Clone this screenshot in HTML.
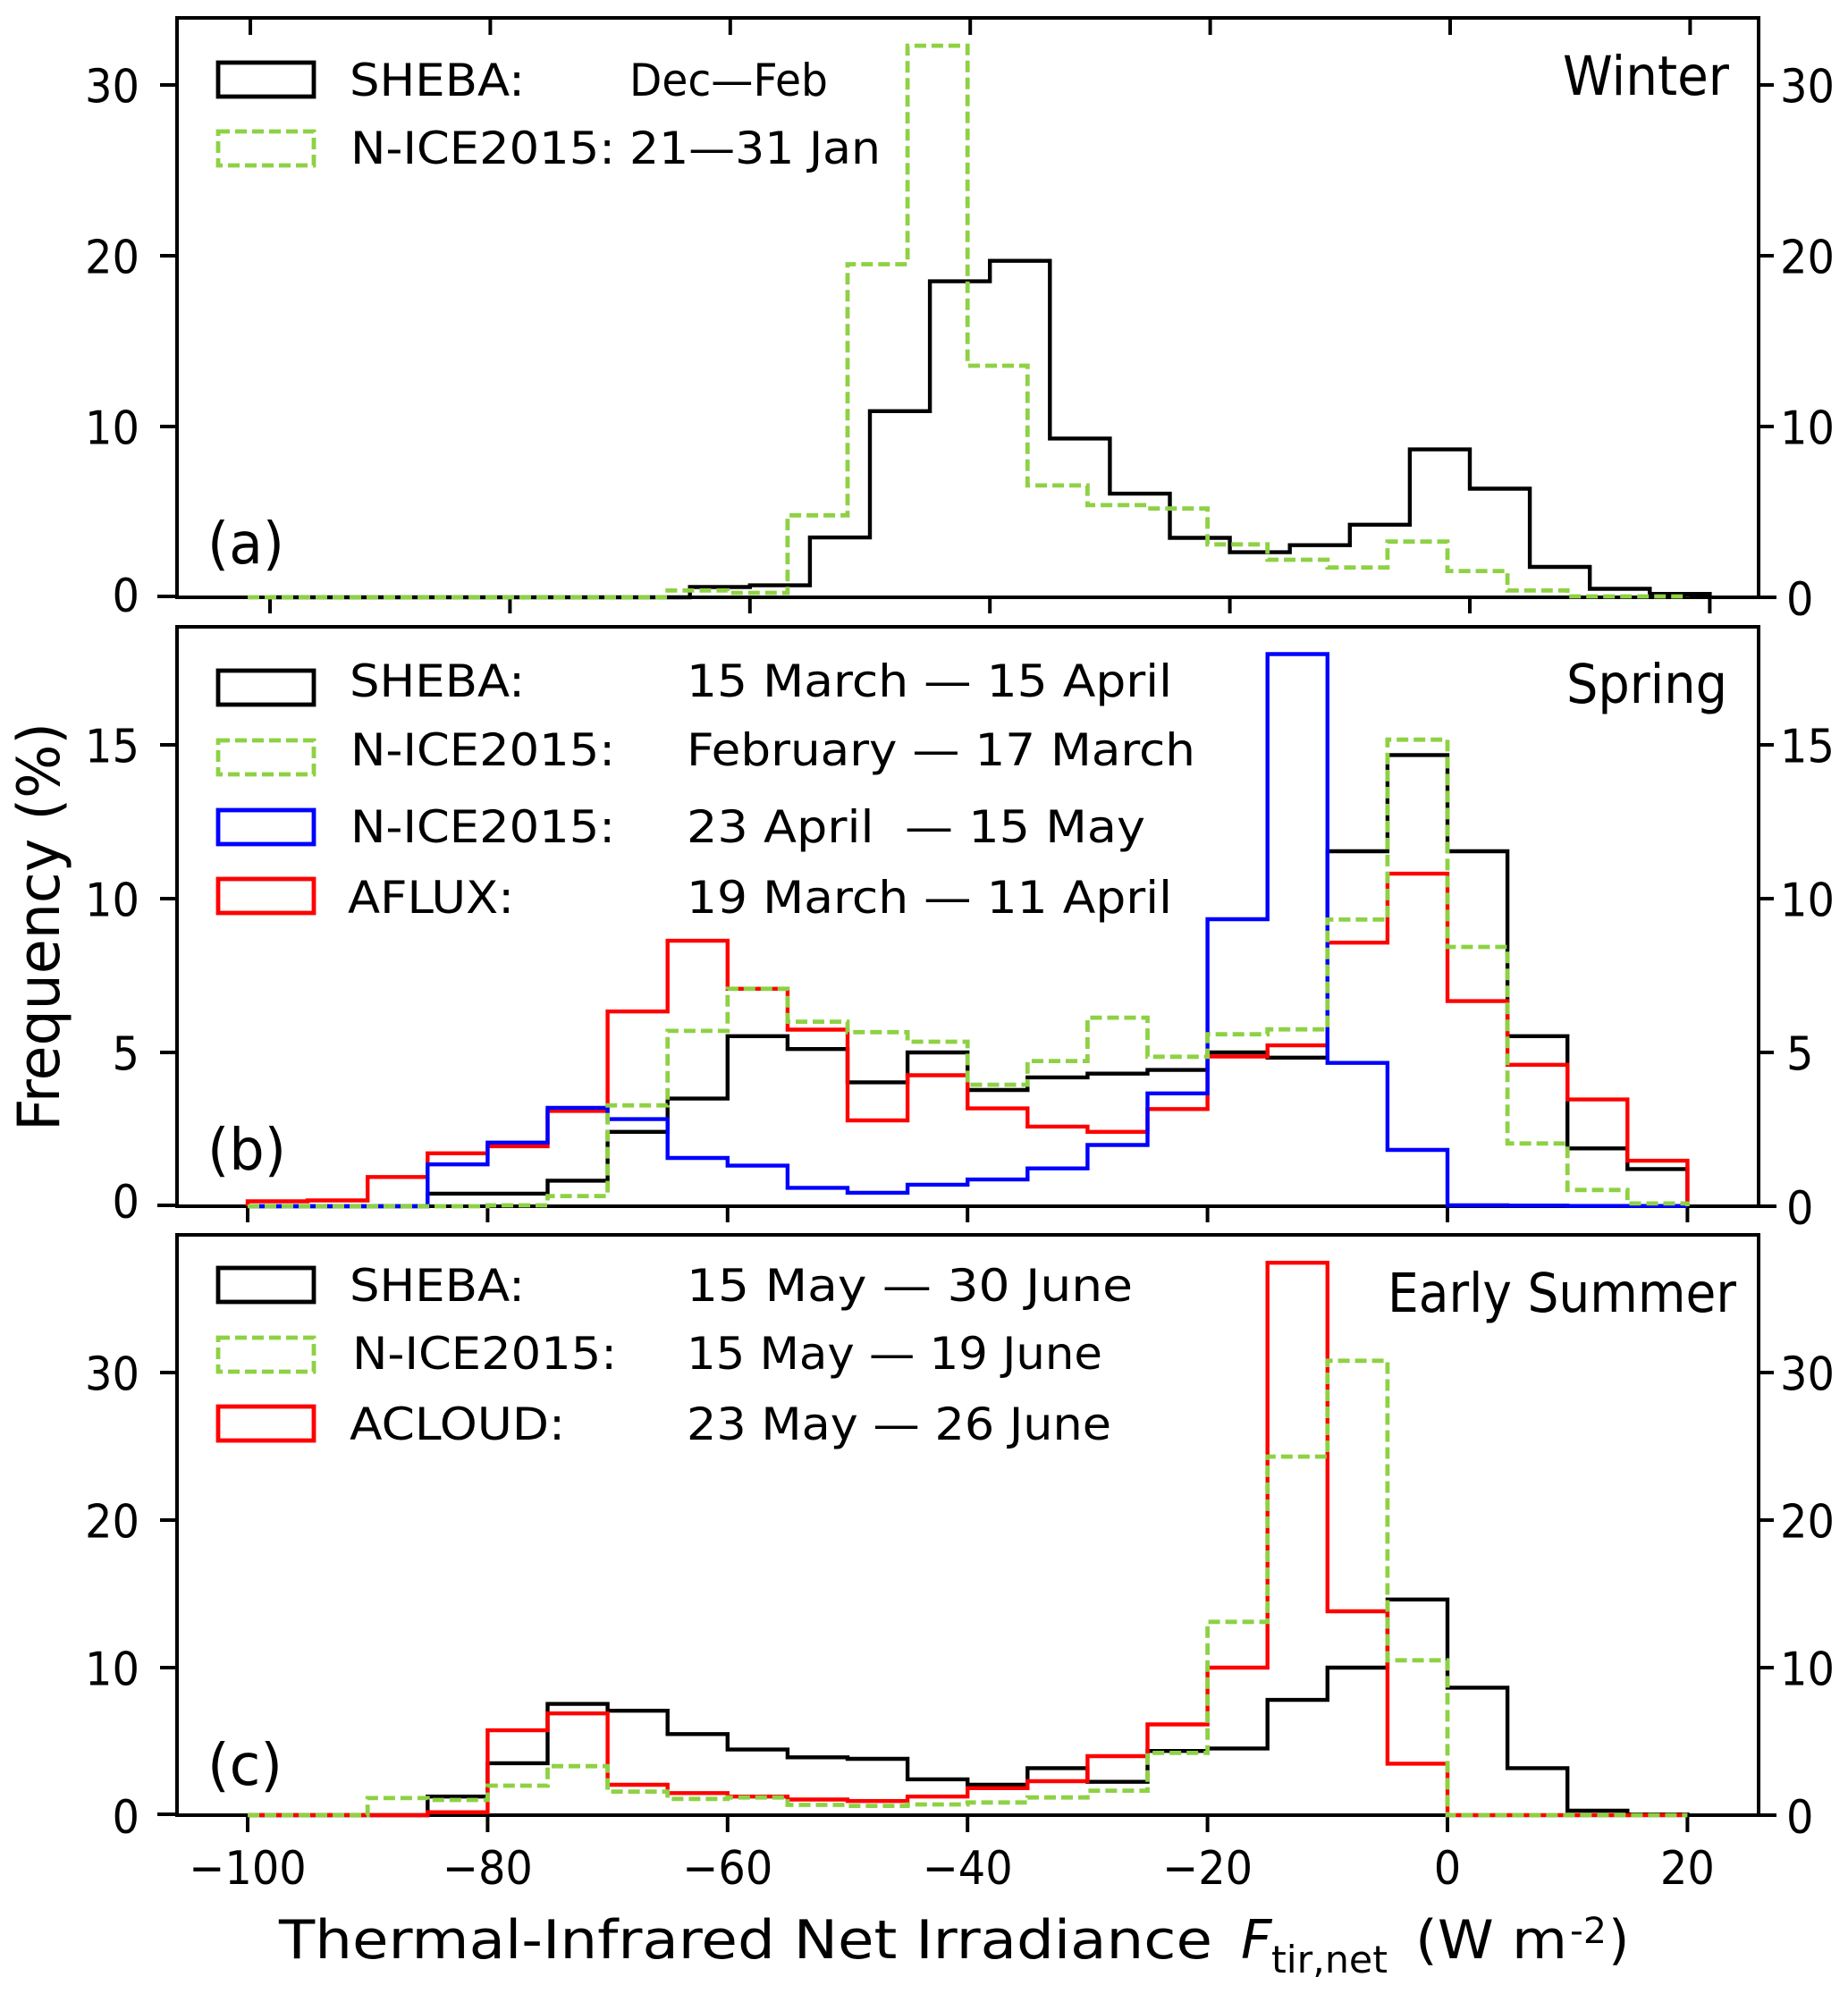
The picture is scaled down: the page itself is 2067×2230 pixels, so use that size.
<!DOCTYPE html>
<html lang="en">
<head>
<meta charset="utf-8">
<title>Thermal-Infrared Net Irradiance Histograms</title>
<style>
html,body{margin:0;padding:0;background:#fff;}
svg{display:block;}
text{font-family:"DejaVu Sans","Liberation Sans",sans-serif;fill:#000;}
.lg{font-size:50px;}
.season{font-size:61px;}
.tag{font-size:64px;}
.tick{font-size:52px;}
.frame{fill:none;stroke:#000;stroke-width:4;}
.box{fill:none;stroke-width:4.8;}
.hist{fill:none;stroke-width:4.4;stroke-linejoin:miter;}
.dash{stroke-dasharray:13 6;stroke-width:4.8;}
</style>
</head>
<body>
<svg id="chart" width="2067" height="2230" viewBox="0 0 2067 2230" xmlns="http://www.w3.org/2000/svg">
  <rect width="2067" height="2230" fill="#fff"/>
  <rect class="frame" x="198" y="20" width="1769" height="648"/>
  <rect class="frame" x="198" y="701" width="1769" height="648"/>
  <rect class="frame" x="198" y="1381" width="1769" height="649"/>
  <g id="axis-layer"></g>
  <g id="series-layer"></g>

  <g>
    <rect class="box" x="244" y="70" width="107" height="38" stroke="#000"/>
    <text class="lg" x="391" y="107" textLength="196" lengthAdjust="spacingAndGlyphs">SHEBA:</text>
    <text class="lg" x="704" y="107" textLength="222" lengthAdjust="spacingAndGlyphs">Dec—Feb</text>
    <rect class="box dash" x="244" y="147" width="107" height="38" stroke="#8ed144"/>
    <text class="lg" x="392" y="183" textLength="296" lengthAdjust="spacingAndGlyphs">N-ICE2015:</text>
    <text class="lg" x="704" y="183" textLength="281" lengthAdjust="spacingAndGlyphs">21—31 Jan</text>
  </g>
  <text class="season" x="1748" y="106" textLength="186" lengthAdjust="spacingAndGlyphs">Winter</text>
  <text class="tag" x="232" y="630" textLength="86" lengthAdjust="spacingAndGlyphs">(a)</text>

  <g>
    <rect class="box" x="244" y="750" width="107" height="38" stroke="#000"/>
    <text class="lg" x="391" y="779" textLength="196" lengthAdjust="spacingAndGlyphs">SHEBA:</text>
    <text class="lg" x="768" y="779" textLength="543" lengthAdjust="spacingAndGlyphs">15 March — 15 April</text>
    <rect class="box dash" x="244" y="828" width="107" height="38" stroke="#8ed144"/>
    <text class="lg" x="392" y="856" textLength="296" lengthAdjust="spacingAndGlyphs">N-ICE2015:</text>
    <text class="lg" x="768" y="856" textLength="569" lengthAdjust="spacingAndGlyphs">February — 17 March</text>
    <rect class="box" x="244" y="906" width="107" height="38" stroke="#0000ff"/>
    <text class="lg" x="392" y="942" textLength="296" lengthAdjust="spacingAndGlyphs">N-ICE2015:</text>
    <text class="lg" x="768" y="942" textLength="513" lengthAdjust="spacingAndGlyphs" xml:space="preserve">23 April  — 15 May</text>
    <rect class="box" x="244" y="983" width="107" height="38" stroke="#ff0000"/>
    <text class="lg" x="389" y="1021" textLength="186" lengthAdjust="spacingAndGlyphs">AFLUX:</text>
    <text class="lg" x="768" y="1021" textLength="543" lengthAdjust="spacingAndGlyphs">19 March — 11 April</text>
  </g>
  <text class="season" x="1752" y="786" textLength="180" lengthAdjust="spacingAndGlyphs">Spring</text>
  <text class="tag" x="232" y="1308" textLength="88" lengthAdjust="spacingAndGlyphs">(b)</text>

  <g>
    <rect class="box" x="244" y="1418" width="107" height="38" stroke="#000"/>
    <text class="lg" x="391" y="1455" textLength="196" lengthAdjust="spacingAndGlyphs">SHEBA:</text>
    <text class="lg" x="768" y="1455" textLength="499" lengthAdjust="spacingAndGlyphs">15 May — 30 June</text>
    <rect class="box dash" x="244" y="1496" width="107" height="38" stroke="#8ed144"/>
    <text class="lg" x="394" y="1531" textLength="296" lengthAdjust="spacingAndGlyphs">N-ICE2015:</text>
    <text class="lg" x="768" y="1531" textLength="465" lengthAdjust="spacingAndGlyphs">15 May — 19 June</text>
    <rect class="box" x="244" y="1573" width="107" height="38" stroke="#ff0000"/>
    <text class="lg" x="391" y="1610" textLength="241" lengthAdjust="spacingAndGlyphs">ACLOUD:</text>
    <text class="lg" x="768" y="1610" textLength="475" lengthAdjust="spacingAndGlyphs">23 May — 26 June</text>
  </g>
  <text class="season" x="1552" y="1467" textLength="390" lengthAdjust="spacingAndGlyphs">Early Summer</text>
  <text class="tag" x="232" y="1996" textLength="84" lengthAdjust="spacingAndGlyphs">(c)</text>

  <text transform="translate(66 1265) rotate(-90)" font-size="65" textLength="457" lengthAdjust="spacingAndGlyphs">Frequency (%)</text>

  <g>
    <text x="312" y="2190" font-size="60" textLength="1044" lengthAdjust="spacingAndGlyphs">Thermal-Infrared Net Irradiance</text>
    <text x="1388" y="2190" font-size="60" font-style="italic">F</text>
    <text x="1422" y="2206" font-size="42" textLength="130" lengthAdjust="spacingAndGlyphs">tir,net</text>
    <text x="1583" y="2190" font-size="60" textLength="170" lengthAdjust="spacingAndGlyphs">(W m</text>
    <text x="1756" y="2173" font-size="40" textLength="41" lengthAdjust="spacingAndGlyphs">-2</text>
    <text x="1799" y="2190" font-size="60">)</text>
  </g>
</svg>
<script>
const binStarts = [-100,-95,-90,-85,-80,-75,-70,-65,-60,-55,-50,-45,-40,-35,-30,-25,-20,-15,-10,-5,0,5,10,15];
const binWidth = 5;

const winterSheba = [0,0,0,0,0,0,0,0.6,0.7,3.5,10.9,18.5,19.7,9.3,6.07,3.48,2.64,3.05,4.25,8.66,6.36,1.78,0.5,0.2];
const winterNice = [0,0,0,0,0,0,0,0.4,0.26,4.8,19.5,32.3,13.56,6.55,5.4,5.2,3.1,2.2,1.75,3.26,1.54,0.4,0.05,0.05];

const springSheba = [0,0,0,0.41,0.41,0.83,2.42,3.5,5.53,5.11,4.03,5.0,3.78,4.19,4.31,4.43,5.0,4.83,11.54,14.67,11.54,5.53,1.88,1.21];
const springNiceEarly = [0,0,0,0,0.03,0.33,3.28,5.7,7.07,6.0,5.66,5.35,3.95,4.72,6.13,4.86,5.59,5.75,9.32,15.17,8.43,2.04,0.53,0.09];
const springNiceLate = [0,0,0,1.36,2.07,3.2,2.83,1.57,1.32,0.6,0.44,0.7,0.87,1.23,1.99,3.67,9.33,17.95,4.66,1.83,0.03,0.02,0.01,0.01];
const springAflux = [0.16,0.19,0.95,1.72,1.95,3.1,6.33,8.63,7.07,5.74,2.79,4.26,3.18,2.59,2.42,3.16,4.87,5.23,8.57,10.81,6.67,4.6,3.47,1.48];

const summerSheba = [0,0,0,1.26,3.52,7.54,7.08,5.5,4.45,3.92,3.82,2.43,2.06,3.19,2.26,4.35,4.52,7.81,10,14.62,8.64,3.19,0.3,0.05];
const summerNice = [0,0,1.16,1.03,2,3.32,1.6,1.1,1.2,0.7,0.63,0.73,0.86,1.2,1.66,4.22,13.1,24.3,30.8,10.5,0,0,0,0];
const summerAcloud = [0,0,0,0.2,5.75,6.9,2.06,1.5,1.26,1.06,0.96,1.26,1.83,2.3,4.0,6.15,10,37.44,13.82,3.49,0,0,0,0];

const xTickValues = [-100,-80,-60,-40,-20,0,20];
const yTicksWinter = [0,10,20,30];
const yTicksSpring = [0,5,10,15];
const yTicksSummer = [0,10,20,30];

const SVG_NS = 'http://www.w3.org/2000/svg';
const seriesLayer = document.getElementById('series-layer');
const axisLayer = document.getElementById('axis-layer');
const BLACK = '#000000', GREEN = '#8ed144', BLUE = '#0000ff', RED = '#ff0000';

const PX_PER_UNIT = 13.42;
function xMain(v){ return 277 + (v + 100) * PX_PER_UNIT; }
function xShifted(v){ return 302 + (v + 100) * PX_PER_UNIT; }
function yWinter(v){ return 668 - 19.1 * v; }
function ySpring(v){ return 1349 - 34.4 * v; }
function ySummer(v){ return 2030 - 16.5 * v; }

function drawHist(values, xFn, yFn, color, dashed, name){
  let d = 'M' + xFn(binStarts[0]).toFixed(1) + ' ' + yFn(0).toFixed(1);
  values.forEach(function(v, i){
    const y = yFn(v).toFixed(1);
    d += 'L' + xFn(binStarts[i]).toFixed(1) + ' ' + y;
    d += 'L' + xFn(binStarts[i] + binWidth).toFixed(1) + ' ' + y;
  });
  d += 'L' + xFn(binStarts[binStarts.length - 1] + binWidth).toFixed(1) + ' ' + yFn(0).toFixed(1);
  const el = document.createElementNS(SVG_NS, 'path');
  el.setAttribute('d', d);
  el.setAttribute('class', dashed ? 'hist dash' : 'hist');
  el.setAttribute('stroke', color);
  
  
  seriesLayer.appendChild(el);
}

function drawLine(x1, y1, x2, y2, width, name){
  const el = document.createElementNS(SVG_NS, 'line');
  el.setAttribute('x1', x1);
  el.setAttribute('y1', y1);
  el.setAttribute('x2', x2);
  el.setAttribute('y2', y2);
  el.setAttribute('stroke', '#000');
  el.setAttribute('stroke-width', width);
  
  
  axisLayer.appendChild(el);
}

function drawLabel(str, x, y, len, name){
  const el = document.createElementNS(SVG_NS, 'text');
  el.setAttribute('class', 'tick');
  el.setAttribute('x', x);
  el.setAttribute('y', y);
  el.setAttribute('textLength', len);
  el.setAttribute('lengthAdjust', 'spacingAndGlyphs');
  
  
  el.textContent = str;
  axisLayer.appendChild(el);
}

function drawYAxis(ticks, yFn, zeroLeft, zeroRight, panel){
  ticks.forEach(function(v){
    const y = yFn(v);
    const yLeft = v === 0 ? y - 1 : y;
    drawLine(v === 0 ? 176 : 179, yLeft, 198, yLeft, 4, panel + '-left-tick-' + v);
    drawLine(v === 0 ? 1969 : 1967, y, v === 0 ? 1987 : 1984, y, 4, panel + '-right-tick-' + v);
    const str = String(v);
    const len = str.length * 30.5;
    const bl = v === 0 ? y + zeroLeft : y + 19.5;
    const br = v === 0 ? y + zeroRight : y + 19.5;
    drawLabel(str, 156 - len, bl, len, panel + '-left-tick-label-' + v);
    drawLabel(str, str.length > 1 ? 1991 : 1998, br, len, panel + '-right-tick-label-' + v);
  });
}

function drawXTicks(xFn, y0, y1, panel){
  xTickValues.forEach(function(v){
    drawLine(xFn(v), y0, xFn(v), y1, 4, panel + '-x-tick-' + v);
  });
}

drawHist(winterSheba, xShifted, yWinter, BLACK, false, 'winter-sheba-series');
drawHist(winterNice, xMain, yWinter, GREEN, true, 'winter-nice-series');

drawHist(springSheba, xMain, ySpring, BLACK, false, 'spring-sheba-series');
drawHist(springAflux, xMain, ySpring, RED, false, 'spring-aflux-series');
drawHist(springNiceLate, xMain, ySpring, BLUE, false, 'spring-nice-late-series');
drawHist(springNiceEarly, xMain, ySpring, GREEN, true, 'spring-nice-early-series');

drawHist(summerSheba, xMain, ySummer, BLACK, false, 'summer-sheba-series');
drawHist(summerAcloud, xMain, ySummer, RED, false, 'summer-acloud-series');
drawHist(summerNice, xMain, ySummer, GREEN, true, 'summer-nice-series');

drawYAxis(yTicksWinter, yWinter, 16, 20, 'panel-a');
drawYAxis(yTicksSpring, ySpring, 13, 20, 'panel-b');
drawYAxis(yTicksSummer, ySummer, 20, 20, 'panel-c');

drawXTicks(function(v){ return xShifted(v) - 22; }, 20, 39, 'panel-a-top');
drawXTicks(xShifted, 668, 686, 'panel-a-bottom');
drawXTicks(xMain, 1349, 1367, 'panel-b-bottom');
drawXTicks(xMain, 2030, 2049, 'panel-c-bottom');

xTickValues.forEach(function(v){
  const str = (v < 0 ? '\u2212' : '') + Math.abs(v);
  const digits = String(Math.abs(v)).length;
  const len = (v < 0 ? 40 : 0) + digits * 30.5;
  const cx = xMain(v);
  drawLabel(str, cx - len / 2, 2107, len, 'x-tick-label-' + v);
});
</script>
</body>
</html>
